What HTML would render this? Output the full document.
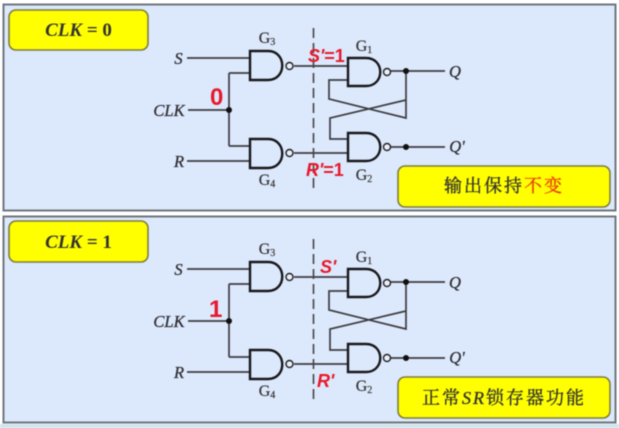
<!DOCTYPE html>
<html>
<head>
<meta charset="utf-8">
<style>
html,body{margin:0;padding:0;background:#fff;width:619px;height:428px;overflow:hidden}
svg{display:block;filter:blur(0.45px)}
.w{fill:none;stroke:#3c3c40;stroke-width:1.7}
.g{fill:none;stroke:#18181c;stroke-width:2.4}
.b{fill:#e8eefa;stroke:#222;stroke-width:1.4}
.i{font:italic 16.5px "Liberation Serif",serif;fill:#2e2e32;text-anchor:middle;stroke:#2e2e32;stroke-width:.3}
.gl{font:16px "Liberation Serif",serif;fill:#333;text-anchor:middle;stroke:#333;stroke-width:.2}
.sub{font-size:10px}
.r{font:bold 24px "Liberation Sans",sans-serif;fill:#e8192c}
.ri{font:italic bold 18px "Liberation Sans",sans-serif;fill:#e8192c}
.box{fill:#ffff00;stroke:#7c7c40;stroke-width:1.6}
.t{font:bold 19px "Liberation Serif","Noto Serif CJK SC",serif;fill:#333;text-anchor:middle}
.c{font:18px "Noto Serif CJK SC","Liberation Serif",serif;fill:#333;stroke:#333;stroke-width:.35;text-anchor:middle;letter-spacing:2px}
</style>
</head>
<body>
<svg width="619" height="428" viewBox="0 0 619 428" xmlns="http://www.w3.org/2000/svg">
<defs>
<g id="circuit">
  <path class="w" d="M187 58H250M188 110H229M229 73V146M250 73H229M250 146H229M187 161H250"/>
  <path class="w" d="M294 66H348M294 153H348"/>
  <path class="w" d="M391 71H445M391 147H445"/>
  <path class="w" d="M348 80H329V99L406 118V71M348 139H330V118L406 100"/>
  <path d="M313.500 28V189" fill="none" stroke="#444" stroke-width="1.6" stroke-dasharray="10 5"/>
  <path class="g" d="M250 51H268C287 51 287 80 268 80H250Z"/>
  <circle class="b" cx="289.500" cy="66" r="3.500"/>
  <path class="g" d="M250 139H268C287 139 287 168 268 168H250Z"/>
  <circle class="b" cx="289.500" cy="153" r="3.500"/>
  <path class="g" d="M348 58H366C385 58 385 86 366 86H348Z"/>
  <circle class="b" cx="387" cy="72" r="3.500"/>
  <path class="g" d="M348 133H366C385 133 385 161 366 161H348Z"/>
  <circle class="b" cx="387" cy="147" r="3.500"/>
  <circle cx="229" cy="110" r="3" fill="#111"/>
  <circle cx="406" cy="71" r="3" fill="#111"/>
  <circle cx="406" cy="147" r="3" fill="#111"/>
  <text class="i" x="178.500" y="64">S</text>
  <text class="i" x="169" y="116">CLK</text>
  <text class="i" x="179" y="167">R</text>
  <text class="i" x="455" y="77">Q</text>
  <text class="i" x="457" y="152">Q'</text>
  <text class="gl" x="267" y="43">G<tspan class="sub" dy="2">3</tspan></text>
  <text class="gl" x="267" y="185">G<tspan class="sub" dy="2">4</tspan></text>
  <text class="gl" x="364" y="51">G<tspan class="sub" dy="2">1</tspan></text>
  <text class="gl" x="364" y="180">G<tspan class="sub" dy="2">2</tspan></text>
</g>
</defs>

<rect x="3.500" y="4.500" width="612" height="206" fill="#dce8fb" stroke="#70767e" stroke-width="2"/>
<rect x="3.500" y="216.500" width="612" height="206" fill="#dce8fb" stroke="#70767e" stroke-width="2"/>
<rect x="0" y="424" width="619" height="4" fill="#cfe6ee"/>

<use href="#circuit"/>
<use href="#circuit" y="211"/>

<rect class="box" x="9" y="10" width="139" height="40" rx="7"/>
<text class="t" x="78.500" y="36"><tspan font-style="italic">CLK</tspan> = 0</text>
<rect class="box" x="9" y="221" width="139" height="41" rx="7"/>
<text class="t" x="78.500" y="248"><tspan font-style="italic">CLK</tspan> = 1</text>

<rect class="box" x="398" y="166" width="212" height="41" rx="7"/>
<text class="c" x="504" y="192">输出保持<tspan fill="#e8400c" stroke="#e8400c">不变</tspan></text>
<rect class="box" x="398" y="377" width="212" height="41" rx="7"/>
<text class="c" x="504" y="404">正常<tspan font-style="italic" font-family="Liberation Serif">SR</tspan>锁存器功能</text>

<text class="r" x="210" y="105">0</text>
<text class="r" x="209" y="317">1</text>
<text class="ri" x="308" y="62">S'<tspan font-style="normal">=1</tspan></text>
<text class="ri" x="306" y="176">R'<tspan font-style="normal">=1</tspan></text>
<text class="ri" x="320" y="273">S'</text>
<text class="ri" x="317" y="387">R'</text>
</svg>
</body>
</html>
